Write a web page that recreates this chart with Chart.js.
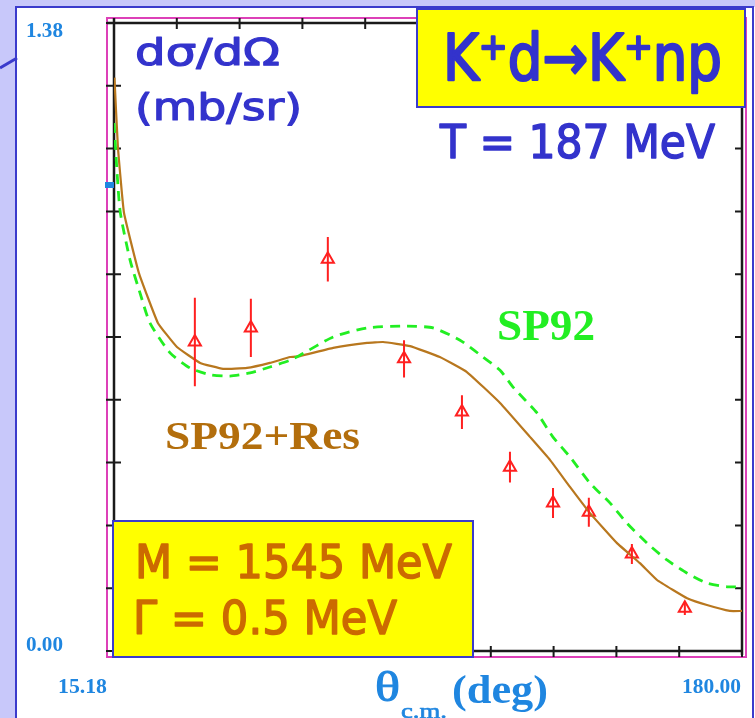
<!DOCTYPE html>
<html>
<head>
<meta charset="utf-8">
<title>K+d → K+np, T = 187 MeV</title>
<script src="https://cdn.jsdelivr.net/npm/chart.js@4.4.1/dist/chart.umd.min.js"></script>
<style>
  html, body { margin: 0; padding: 0; background: #c8c8fa; }
  canvas { display: block; }
</style>
</head>
<body>
<canvas id="xsec" width="755" height="718"></canvas>
<script>
// axis end labels (also used as the axis limits)
const xTickLabels = ["15.18", "180.00"];
const yTickLabels = ["0.00", "1.38"];

// measured points: angle (deg), dsigma/dOmega (mb/sr), error
const thetaData = [36.4, 51.1, 71.3, 91.3, 106.5, 119.1, 130.4, 139.8, 151.1, 165.0];
const sigmaData = [0.679, 0.710, 0.861, 0.642, 0.525, 0.404, 0.325, 0.305, 0.213, 0.094];
const sigmaErr  = [0.097, 0.064, 0.049, 0.041, 0.037, 0.034, 0.033, 0.032, 0.022, 0.015];

// SP92 + resonance (M = 1545 MeV, Gamma = 0.5 MeV)
const resTheta = [15.3, 16.2, 17.8, 21.7, 26.7, 31.7, 37.8, 43.8, 50.1, 56.1, 61.4, 64.0,
  72.7, 81.6, 85.8, 92.9, 100.7, 107.8, 116.5, 124.4, 129.6, 134.9, 140.1, 147.2,
  153.2, 157.7, 161.9, 165.6, 170.8, 176.8, 180.0];
const resSigma = [1.26, 1.108, 0.963, 0.831, 0.721, 0.668, 0.633, 0.620, 0.622, 0.633, 0.646, 0.648,
  0.666, 0.677, 0.679, 0.670, 0.646, 0.613, 0.545, 0.470, 0.420, 0.360, 0.303, 0.237,
  0.193, 0.156, 0.134, 0.116, 0.101, 0.088, 0.088];

// SP92 alone
const spTheta = [15.18, 16.75, 19.4, 22.0, 24.6, 29.9, 35.1, 40.4, 45.6, 50.9, 56.1, 61.4, 64.0,
  72.7, 81.6, 92.1, 98.9, 106.0, 112.0, 116.5, 119.9, 126.2, 130.4, 134.9, 140.1,
  145.4, 149.8, 155.1, 160.3, 165.6, 170.8, 176.1, 180.0];
const spSigma = [1.16, 0.969, 0.859, 0.787, 0.721, 0.655, 0.622, 0.607, 0.604, 0.611, 0.624, 0.639, 0.650,
  0.690, 0.710, 0.714, 0.710, 0.683, 0.646, 0.617, 0.580, 0.523, 0.470, 0.426, 0.369,
  0.325, 0.281, 0.237, 0.200, 0.171, 0.149, 0.141, 0.141];

// small marker on the left axis
const markerValue = 1.024;

const xMin = parseFloat(xTickLabels[0]), xMax = parseFloat(xTickLabels[1]);
const yMin = parseFloat(yTickLabels[0]), yMax = parseFloat(yTickLabels[1]);

const toXY = (xs, ys) => xs.map((x, i) => ({ x: x, y: ys[i] }));

// draw a string squeezed/stretched to a given width, optionally thickened
function fitText(ctx, str, x, y, w, font, color, stroke) {
  ctx.save();
  ctx.font = font;
  const m = ctx.measureText(str).width;
  ctx.translate(x, y);
  ctx.scale(w / m, 1);
  ctx.fillStyle = color;
  ctx.textBaseline = "alphabetic";
  ctx.textAlign = "left";
  ctx.fillText(str, 0, 0);
  if (stroke) {
    ctx.strokeStyle = color;
    ctx.lineWidth = stroke;
    ctx.lineJoin = "round";
    ctx.strokeText(str, 0, 0);
  }
  ctx.restore();
}

function box(ctx, x, y, w, h) {
  ctx.fillStyle = "#ffff00";
  ctx.fillRect(x, y, w, h);
  ctx.strokeStyle = "#3b3bcc";
  ctx.lineWidth = 2;
  ctx.strokeRect(x, y, w, h);
}

const decor = {
  id: "decor",
  beforeDraw(chart) {
    const ctx = chart.ctx;
    ctx.save();
    ctx.fillStyle = "#c8c8fa";
    ctx.fillRect(0, 0, chart.width, chart.height);
    // white panel
    ctx.fillStyle = "#ffffff";
    ctx.fillRect(16, 7, 740, 720);
    ctx.strokeStyle = "#3b3bcc";
    ctx.lineWidth = 2;
    ctx.strokeRect(16, 7, 737, 730);
    // callout stub
    ctx.lineWidth = 3;
    ctx.beginPath();
    ctx.moveTo(0, 68);
    ctx.lineTo(17, 58);
    ctx.stroke();
    ctx.restore();
  },
  beforeDatasetsDraw(chart) {
    const ctx = chart.ctx, a = chart.chartArea;
    const xs = chart.scales.x, ys = chart.scales.y;
    ctx.save();
    // outer magenta frame
    ctx.strokeStyle = "#dd40b8";
    ctx.lineWidth = 2;
    ctx.strokeRect(a.left - 7, a.top - 5, a.right - a.left + 11, a.bottom - a.top + 11);
    // axes box
    ctx.strokeStyle = "#1a1a1a";
    ctx.lineWidth = 2.5;
    ctx.beginPath();
    ctx.moveTo(a.left - 7, a.top); ctx.lineTo(a.right, a.top);
    ctx.moveTo(a.left, a.top - 5); ctx.lineTo(a.left, a.bottom);
    ctx.lineTo(a.right, a.bottom);
    ctx.moveTo(a.right, a.top); ctx.lineTo(a.right, a.bottom + 4);
    ctx.stroke();
    ctx.lineWidth = 2;
    ctx.beginPath();
    for (let i = 0; i <= 10; i++) {
      const py = ys.getPixelForValue(yMin + (yMax - yMin) * i / 10);
      ctx.moveTo(a.left - 8, py); ctx.lineTo(a.left + 7, py);
      ctx.moveTo(a.right - 7, py); ctx.lineTo(a.right, py);
      const px = xs.getPixelForValue(xMin + (xMax - xMin) * i / 10);
      ctx.moveTo(px, a.bottom - 5); ctx.lineTo(px, a.bottom + 6);
      ctx.moveTo(px, a.top - 5); ctx.lineTo(px, a.top + 6);
    }
    ctx.stroke();
    // blue marker on the left axis
    ctx.fillStyle = "#1f86e0";
    ctx.fillRect(a.left - 9, ys.getPixelForValue(markerValue) - 3, 9, 6);
    ctx.restore();
  },
  afterDatasetsDraw(chart) {
    const ctx = chart.ctx;
    const xs = chart.scales.x, ys = chart.scales.y;
    ctx.save();
    ctx.strokeStyle = "#ff2020";
    ctx.lineWidth = 2;
    ctx.beginPath();
    thetaData.forEach((t, i) => {
      const px = xs.getPixelForValue(t);
      ctx.moveTo(px, ys.getPixelForValue(sigmaData[i] + sigmaErr[i]));
      ctx.lineTo(px, ys.getPixelForValue(sigmaData[i] - sigmaErr[i]));
    });
    ctx.stroke();
    ctx.restore();
  },
  afterDraw(chart) {
    const ctx = chart.ctx;
    const hand = "'DejaVu Sans', sans-serif";
    const serif = "'Liberation Serif', 'DejaVu Serif', serif";
    ctx.save();
    // reaction box
    box(ctx, 417, 9, 328, 98);
    fitText(ctx, "K\u207Ad\u2192K\u207Anp", 443, 80, 279, "64px " + hand, "#3333cc", 2.5);
    fitText(ctx, "T = 187 MeV", 440, 158, 275, "47px " + hand, "#3333cc", 1.5);
    // y-axis quantity
    fitText(ctx, "d\u03C3/d\u03A9", 135, 65, 145, "38px " + hand, "#3333cc", 1.2);
    fitText(ctx, "(mb/sr)", 135, 120, 167, "38px " + hand, "#3333cc", 1.2);
    // curve labels
    fitText(ctx, "SP92", 497, 340, 98, "bold 44px " + serif, "#22ee22");
    fitText(ctx, "SP92+Res", 165, 449, 195, "bold 40px " + serif, "#b36e0c");
    // resonance parameters
    box(ctx, 113, 521, 360, 136);
    fitText(ctx, "M = 1545 MeV", 135, 578, 317, "47px " + hand, "#cc6a00", 1.5);
    fitText(ctx, "\u0393 = 0.5 MeV", 133, 634, 264, "47px " + hand, "#cc6a00", 1.5);
    // axis limit labels
    const tick = "bold 21px " + serif, tc = "#1f86e0";
    fitText(ctx, yTickLabels[1], 26, 37, 37, tick, tc);
    fitText(ctx, yTickLabels[0], 26, 651, 37, tick, tc);
    fitText(ctx, xTickLabels[0], 58, 693, 49, tick, tc);
    fitText(ctx, xTickLabels[1], 682, 693, 59, tick, tc);
    // x-axis title
    fitText(ctx, "\u03B8", 375, 701, 25, "42px " + serif, tc, 1);
    fitText(ctx, "c.m.", 401, 718, 46, "20px " + serif, tc, 0.6);
    fitText(ctx, "(deg)", 452, 703, 96, "bold 40px " + serif, tc);
    ctx.restore();
  }
};

new Chart(document.getElementById("xsec"), {
  type: "scatter",
  data: {
    datasets: [
      {
        label: "SP92",
        data: toXY(spTheta, spSigma),
        showLine: true,
        borderColor: "#22ee22",
        borderWidth: 2.8,
        borderDash: [10, 7],
        pointRadius: 0,
        tension: 0.2
      },
      {
        label: "SP92+Res",
        data: toXY(resTheta, resSigma),
        showLine: true,
        borderColor: "#b8771e",
        borderWidth: 2.2,
        pointRadius: 0,
        tension: 0.1
      },
      {
        label: "data",
        data: toXY(thetaData, sigmaData),
        pointStyle: "triangle",
        pointRadius: 7,
        pointBorderWidth: 2,
        borderColor: "#ff2020",
        backgroundColor: "#ffffff"
      }
    ]
  },
  options: {
    responsive: false,
    animation: false,
    devicePixelRatio: 1,
    layout: { padding: { left: 114, top: 23, right: 13, bottom: 67 } },
    plugins: { legend: { display: false }, tooltip: { enabled: false } },
    scales: {
      x: { type: "linear", min: xMin, max: xMax, display: false },
      y: { type: "linear", min: yMin, max: yMax, display: false }
    }
  },
  plugins: [decor]
});
</script>
</body>
</html>
